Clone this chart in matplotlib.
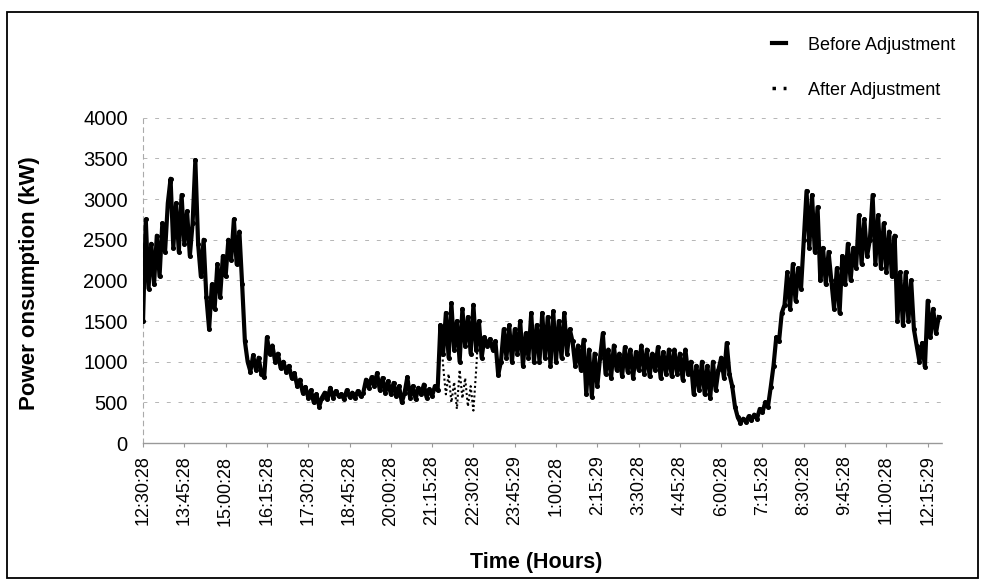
import matplotlib
matplotlib.use("Agg")
import matplotlib.pyplot as plt
from matplotlib.patches import Rectangle
from matplotlib.lines import Line2D

# ---- data (kW, one reading every 5 minutes starting 12:30:28) ----
before_afternoon = [  # 12:30 - 18:25
    1500, 2750, 1900, 2450, 1950, 2550, 2050, 2700, 2350, 2950, 3250, 2400,
    2950, 2350, 3050, 2450, 2850, 2300, 2700, 3480, 2450, 2050, 2500, 1800,
    1400, 1950, 1650, 2200, 1800, 2300, 2050, 2500, 2250, 2750, 2200, 2600,
    1950, 1250, 1000, 880, 1080, 900, 1050, 850, 810, 1300, 1100, 1200,
    1000, 1100, 920, 1000, 880, 950, 800, 860, 700, 780, 620, 690,
    560, 650, 500, 600, 450, 560, 620, 540, 680, 560, 640, 580,
]
before_evening = [  # 18:30 - 00:25
    600, 540, 650, 570, 620, 560, 640, 580, 620, 780, 680, 810,
    700, 860, 650, 800, 620, 760, 600, 740, 580, 700, 500, 620,
    810, 560, 700, 540, 680, 600, 720, 560, 660, 580, 700, 650,
    1450, 1100, 1600, 1050, 1720, 1150, 1500, 1000, 1650, 1200, 1550, 1100,
    1700, 1150, 1500, 1050, 1300, 1200, 1280, 1150, 1250, 840, 1000, 1400,
    1050, 1450, 1000, 1400, 1100, 1500, 950, 1350, 1050, 1600, 1000, 1450,
]
before_night = [  # 00:30 - 06:25
    1000, 1600, 1050, 1550, 950, 1620, 1000, 1500, 1050, 1600, 1100, 1400,
    1250, 950, 1200, 900, 1270, 600, 1150, 570, 1100, 700, 1050, 1350,
    850, 1150, 800, 1200, 900, 1100, 820, 1180, 880, 1150, 800, 1120,
    900, 1200, 850, 1150, 820, 1100, 900, 1180, 800, 1120, 850, 1150,
    820, 1150, 850, 1100, 780, 1150, 850, 1000, 600, 950, 650, 1000,
    600, 950, 550, 1000, 650, 900, 1050, 800, 1230, 850, 700, 450,
]
before_morning = [  # 06:30 - 12:35
    320, 250, 300, 260, 330, 280, 350, 300, 420, 380, 500, 450,
    690, 950, 1300, 1250, 1600, 1700, 2100, 1650, 2200, 1750, 2150, 1900,
    2500, 3100, 2400, 3050, 2350, 2900, 2000, 2400, 1950, 2350, 2000, 1650,
    2150, 1600, 2300, 1950, 2450, 2000, 2400, 2150, 2800, 2200, 2750, 2300,
    2500, 3050, 2200, 2800, 2150, 2700, 2100, 2600, 2050, 2550, 1500, 2100,
    1450, 2100, 1500, 2000, 1400, 1200, 1000, 1230, 935, 1750, 1300, 1650,
    1350, 1550,
]
# After adjustment differs only from 21:35 to 22:35
after_window_start = 109  # index of 21:35 reading
after_window = [950, 600, 850, 500, 750, 420, 900, 550, 800, 450, 700, 400, 900]

tick_labels = ["12:30:28", "13:45:28", "15:00:28", "16:15:28", "17:30:28",
               "18:45:28", "20:00:28", "21:15:28", "22:30:28", "23:45:29",
               "1:00:28", "2:15:29", "3:30:28", "4:45:28", "6:00:28",
               "7:15:28", "8:30:28", "9:45:28", "11:00:28", "12:15:29"]
tick_hours = [1.25 * i for i in range(len(tick_labels))]

before = before_afternoon + before_evening + before_night + before_morning
after = (before[:after_window_start] + after_window
         + before[after_window_start + len(after_window):])
hours = [i * 5 / 60 for i in range(len(before))]

plt.rcParams['font.family'] = ['Liberation Sans', 'DejaVu Sans']

fig = plt.figure(figsize=(9.81, 5.8), dpi=100)
ax = fig.add_axes([0.1458, 0.236, 0.815, 0.561])

for y in range(500, 4001, 500):
    ax.axhline(y, color='#b5b5b5', lw=0.7, ls=(0, (4, 8)), zorder=0)

ax.plot(hours, after, color='black', lw=1.5, ls=(0, (1, 1.3)), zorder=2)
ax.plot(hours, before, color='black', lw=3.0, zorder=3,
        marker='o', markersize=2.6, solid_joinstyle='round')

ax.set_xlim(0, 24.2)
ax.set_ylim(0, 4000)
ax.set_yticks(range(0, 4001, 500))
ax.set_xticks(tick_hours)
ax.set_xticklabels(tick_labels, rotation=90, fontsize=13)
ax.tick_params(axis='y', labelsize=14.5, length=0, pad=11)
ax.tick_params(axis='x', length=3, color='#999999', pad=6)
for s in ['top', 'right']:
    ax.spines[s].set_visible(False)
ax.spines['left'].set_color('#aaaaaa')
ax.spines['left'].set_linestyle((0, (4, 4)))
ax.spines['left'].set_linewidth(0.8)
ax.spines['bottom'].set_color('#999999')
ax.spines['bottom'].set_linestyle((0, (1, 1)))
ax.spines['bottom'].set_linewidth(1.0)

ax.set_ylabel("Power onsumption (kW)", fontsize=16, fontweight='bold')
ax.yaxis.set_label_coords(-0.129, 0.491)
ax.set_xlabel("Time (Hours)", fontsize=15.5, fontweight='bold')
ax.xaxis.set_label_coords(0.492, -0.335)

handles = [Line2D([], [], color='black', lw=3),
           Line2D([], [], color='black', lw=2.5, ls=(0, (1, 2.2)))]
fig.legend(handles, ["Before Adjustment", "After Adjustment"],
           loc='upper left', bbox_to_anchor=(0.77, 0.965), frameon=False,
           fontsize=13, handlelength=0.8, handletextpad=1.2, labelspacing=1.55)

fig.patches.append(Rectangle((0.007, 0.004), 0.99, 0.976, transform=fig.transFigure,
                             fill=False, edgecolor='black', lw=1.3))

fig.savefig("out.png", dpi=100)
